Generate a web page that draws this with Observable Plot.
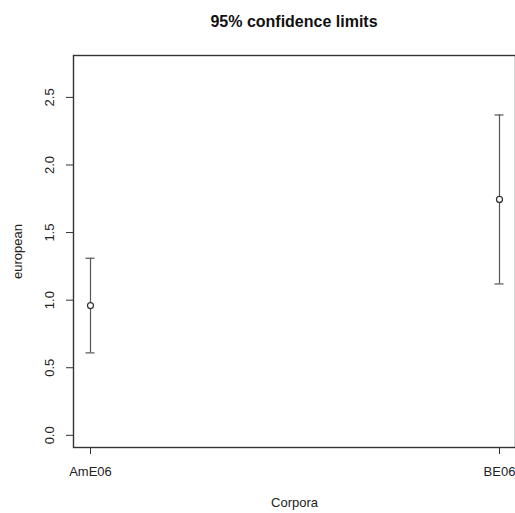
<!DOCTYPE html>
<html><head><meta charset="utf-8">
<script src="https://cdn.jsdelivr.net/npm/d3@7"></script>
<script src="https://cdn.jsdelivr.net/npm/@observablehq/plot@0.6"></script>
<style>
body{margin:0;background:#fff;font-family:"Liberation Sans",Arial,sans-serif;}
#title{height:40px;line-height:44px;text-align:center;font-weight:bold;font-size:16px;color:#111;padding-left:73px;}
</style></head>
<body>
<div id="title">95% confidence limits</div>
<div id="chart"></div>
<script>
const categories = ["AmE06", "BE06"];
const means = [0.96, 1.745];
const lower = [0.61, 1.12];
const upper = [1.31, 2.37];
const yTicks = [0, 0.5, 1.0, 1.5, 2.0, 2.5];

const data = categories.map((c, i) => ({cat: c, mean: means[i], lo: lower[i], hi: upper[i]}));
const ink = "#555";
const plot = Plot.plot({
  width: 515,
  height: 473,
  marginLeft: 73,
  marginRight: 0,
  marginTop: 15,
  marginBottom: 66,
  style: {fontFamily: "'Liberation Sans', Arial, sans-serif", fontSize: "13px", color: "#222", background: "white"},
  x: {type: "point", domain: categories, padding: 0.04},
  y: {domain: [-0.09, 2.81]},
  marks: [
    Plot.frame({stroke: "#333", strokeWidth: 1.4}),
    Plot.axisY({ticks: yTicks, tickFormat: d3.format(".1f"), tickSize: 7, tickRotate: -90, tickPadding: 13, label: null, stroke: "#333", fontSize: 13}),
    Plot.axisX({tickSize: 7, tickPadding: 12, label: null, stroke: "#333", fontSize: 13}),
    Plot.ruleX(data, {x: "cat", y1: "lo", y2: "hi", stroke: ink, strokeWidth: 1.2}),
    Plot.ruleY(data, {x1: "cat", x2: "cat", y: "lo", insetLeft: -4.5, insetRight: -4.5, stroke: ink, strokeWidth: 1.2}),
    Plot.ruleY(data, {x1: "cat", x2: "cat", y: "hi", insetLeft: -4.5, insetRight: -4.5, stroke: ink, strokeWidth: 1.2}),
    Plot.dot(data, {x: "cat", y: "mean", r: 3, stroke: "#333", fill: "white", strokeWidth: 1.2}),
    Plot.text(["european"], {frameAnchor: "left", textAnchor: "middle", dx: -56, rotate: -90, fontSize: 13, fill: "#222"}),
    Plot.text(["Corpora"], {frameAnchor: "bottom", dy: 59, fontSize: 13, fill: "#222"})
  ]
});
document.getElementById("chart").appendChild(plot);
</script>
</body></html>
